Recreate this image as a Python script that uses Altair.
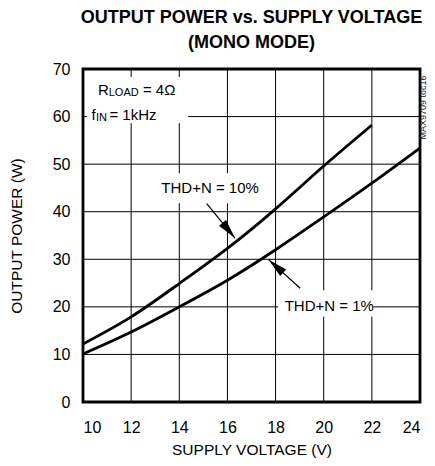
import altair as alt
import pandas as pd

# ---- data ----
volts_10 = [10, 12, 14, 16, 18, 20, 22]
power_10 = [12.2, 17.9, 24.9, 32.3, 40.6, 49.6, 58.2]
volts_1 = [10, 12, 14, 16, 18, 20, 22, 24]
power_1 = [10.1, 14.7, 20.0, 25.6, 32.0, 38.9, 46.0, 53.4]

x_ticks = [10, 12, 14, 16, 18, 20, 22, 24]
y_ticks = [0, 10, 20, 30, 40, 50, 60, 70]

# annotation boxes (white backgrounds behind labels), data coords
box_x = [10.17, 13.12, 18.11]
box_x2 = [14.37, 17.44, 22.06]
box_y = [68.3, 48.1, 23.5]
box_y2 = [58.6, 41.8, 17.9]

# arrows: tail -> tip
arr_x = [15.14, 19.02]
arr_y = [41.7, 23.9]
arr_x2 = [16.32, 17.70]
arr_y2 = [34.4, 29.98]
arr_angle = [141, 312]

# labels
lab_text = ["THD+N = 10%", "THD+N = 1%"]
lab_x = [15.28, 20.23]
lab_y = [43.9, 19.1]

FONT = "Liberation Sans"

rows = []
for v, p in zip(volts_10, power_10):
    rows.append({"v": v, "p": p, "s": "THD+N = 10%"})
for v, p in zip(volts_1, power_1):
    rows.append({"v": v, "p": p, "s": "THD+N = 1%"})
curves = pd.DataFrame(rows)

xscale = alt.Scale(domain=[10, 24], nice=False, zero=False)
yscale = alt.Scale(domain=[0, 70], nice=False, zero=True)

xaxis = alt.Axis(values=x_ticks, title="SUPPLY VOLTAGE (V)", grid=False,
                 domain=False, ticks=False, tickSize=0,
                 labelFont=FONT, labelFontSize=16, labelColor="black", labelPadding=17,
                 titleFont=FONT, titleFontSize=15.5, titleFontWeight="normal",
                 titleColor="black", titlePadding=7)
yaxis = alt.Axis(values=y_ticks, title="OUTPUT POWER (W)", grid=False,
                 domain=False, ticks=False, tickSize=0,
                 labelFont=FONT, labelFontSize=16, labelColor="black", labelPadding=13,
                 titleFont=FONT, titleFontSize=15.5, titleFontWeight="normal",
                 titleColor="black", titlePadding=28)

vgrid = alt.Chart(pd.DataFrame({"v": x_ticks})).mark_rule(color="black", strokeWidth=1).encode(
    x=alt.X("v:Q", scale=xscale, axis=xaxis)
)
hgrid = alt.Chart(pd.DataFrame({"p": y_ticks})).mark_rule(color="black", strokeWidth=1).encode(
    y=alt.Y("p:Q", scale=yscale, axis=yaxis)
)

boxes = pd.DataFrame({"x": box_x, "x2": box_x2, "y": box_y, "y2": box_y2})
box_layer = alt.Chart(boxes).mark_rect(color="white", opacity=1).encode(
    x=alt.X("x:Q", scale=xscale),
    x2="x2:Q",
    y=alt.Y("y:Q", scale=yscale),
    y2="y2:Q",
)

line_layer = alt.Chart(curves).mark_line(color="black", strokeWidth=2.8,
                                         interpolate="natural").encode(
    x=alt.X("v:Q", scale=xscale),
    y=alt.Y("p:Q", scale=yscale),
    detail="s:N",
)

arrows = pd.DataFrame({"x": arr_x, "y": arr_y, "x2": arr_x2, "y2": arr_y2, "a": arr_angle})
shaft_layer = alt.Chart(arrows).mark_rule(color="black", strokeWidth=1.2).encode(
    x=alt.X("x:Q", scale=xscale), y=alt.Y("y:Q", scale=yscale), x2="x2:Q", y2="y2:Q"
)
head_layer = alt.Chart(arrows).mark_point(
    shape="M0,0L-0.45,2L0.45,2Z", filled=True, color="black", opacity=1, size=400
).encode(
    x=alt.X("x2:Q", scale=xscale), y=alt.Y("y2:Q", scale=yscale),
    angle=alt.Angle("a:Q", scale=None),
)

labels = pd.DataFrame({"t": lab_text, "x": lab_x, "y": lab_y})
label_layer = alt.Chart(labels).mark_text(font=FONT, fontSize=15, color="black",
                                          align="center", baseline="alphabetic").encode(
    x=alt.X("x:Q", scale=xscale), y=alt.Y("y:Q", scale=yscale), text="t:N"
)

# conditions text with subscripts (pieces)
cond_text = ["R", "LOAD", "= 4Ω", "f", "IN", "= 1kHz"]
cond_x = [10.62, 10.62, 10.62, 10.35, 10.35, 10.35]
cond_y = [64.5, 64.5, 64.5, 59.2, 59.2, 59.2]
cond_dx = [0, 10.8, 45, 0, 4.5, 18]
cond_dy = [0, 1, 0, 0, 1, 0]
cond_size = [15, 11, 15, 15, 11, 15]
cond = pd.DataFrame({"t": cond_text, "x": cond_x, "y": cond_y})
cond_layers = []
for i in range(len(cond)):
    r = cond.iloc[[i]]
    cond_layers.append(
        alt.Chart(r).mark_text(font=FONT, fontSize=float(cond_size[i]), color="black",
                               align="left", baseline="alphabetic",
                               dx=float(cond_dx[i]), dy=float(cond_dy[i])).encode(
            x=alt.X("x:Q", scale=xscale), y=alt.Y("y:Q", scale=yscale), text="t:N"
        )
    )

side = pd.DataFrame({"t": ["MAX9709 toc16"], "x": [24.26], "y": [61.9]})
side_layer = alt.Chart(side).mark_text(font=FONT, fontSize=9, color="#222222", angle=270,
                                       align="center", baseline="alphabetic").encode(
    x=alt.X("x:Q", scale=xscale), y=alt.Y("y:Q", scale=yscale), text="t:N"
)

chart = alt.layer(vgrid, hgrid, box_layer, line_layer, shaft_layer, head_layer, label_layer,
                  *cond_layers, side_layer).properties(
    width=337, height=333,
    autosize=alt.AutoSizeParams(type="none"),
    padding={"left": 75, "top": 61, "right": 7, "bottom": 56},
    title=alt.TitleParams(
        text=["OUTPUT POWER vs. SUPPLY VOLTAGE", "(MONO MODE)"],
        font=FONT, fontSize=18, fontWeight="bold", color="black",
        anchor="middle", lineHeight=25, offset=9,
    ),
).configure_view(stroke="black", strokeWidth=2.8)

chart.save("out.html", embed_options={"renderer": "svg", "actions": False})
